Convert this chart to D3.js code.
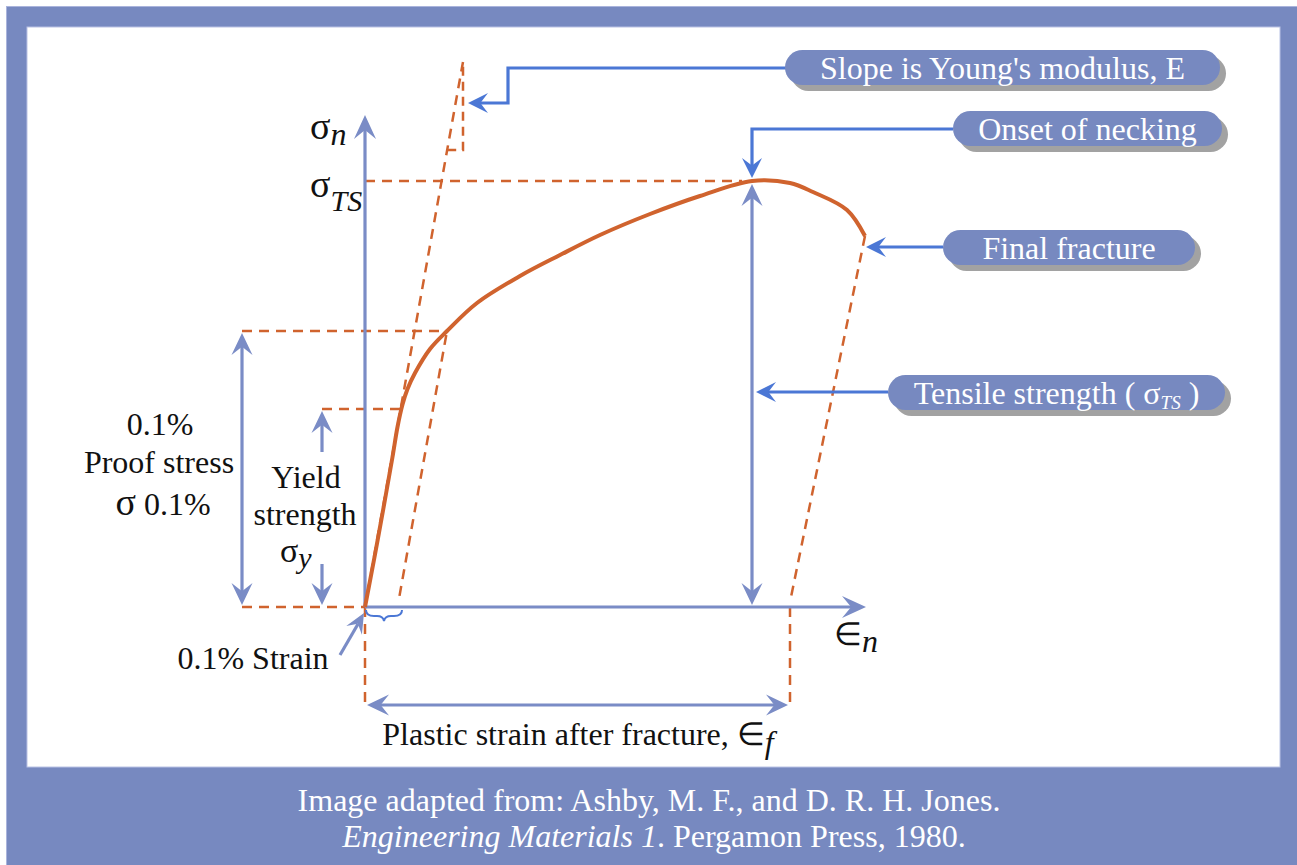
<!doctype html>
<html lang="en">
<head>
<meta charset="utf-8">
<title>Stress-strain curve</title>
<script src="https://d3js.org/d3.v7.min.js"></script>
<style>
  body { margin: 0; padding: 0; background: #fff; }
  svg text { font-family: 'Liberation Serif', 'Times New Roman', serif; }
</style>
</head>
<body>
<script>
// curve (strain, stress in arbitrary units)
const curveStrain = [0, 2, 4, 5.5, 6.5, 7.5, 8.5, 10, 13, 16.4, 22.4, 31, 39, 47, 57, 67, 77.4, 85, 89.6, 96.4, 100];
const curveStress = [0, 10.5, 21.5, 30, 36, 40.5, 43.6, 46.8, 51.6, 55.2, 60.8, 66.2, 70.4, 74.4, 78.6, 82.2, 85.2, 84.8, 83, 79.4, 74.2];

// key values
const yieldPoint = [7, 39.6];
const proofPoint = [16.4, 55.2];
const peakPoint = [77.4, 85.2];
const fracturePoint = [100, 74.2];
const plasticStrain = 85;
const offsetStrain = 6.5;
const modulus = 5.56;
const slopeTop = [19.6, 109];
const slopeCorner = [19.6, 91.4];

const frameCol = "#7789c0";
const axisCol = "#7a8cc6";
const orange = "#d0632e";
const callCol = "#4b77d5";

const W = 1297, H = 865;
const svg = d3.select("body").append("svg").attr("width", W).attr("height", H);

// frame
svg.append("rect").attr("x", 6.5).attr("y", 6.5).attr("width", W - 6).attr("height", H - 6)
  .attr("fill", frameCol).attr("stroke", "#aab4dc").attr("stroke-width", 1);
svg.append("rect").attr("x", 27).attr("y", 27).attr("width", 1253).attr("height", 740)
  .attr("fill", "#fff").attr("stroke", "#b9c2e4").attr("stroke-width", 1);

const x = d3.scaleLinear().domain([0, 100]).range([365, 865]);
const y = d3.scaleLinear().domain([0, 100]).range([607, 107]);

function head(tip, from, color, len = 22, hw = 10.5) {
  const dx = tip[0] - from[0], dy = tip[1] - from[1];
  const d = Math.hypot(dx, dy), ux = dx / d, uy = dy / d;
  const px = -uy, py = ux;
  const bx = tip[0] - ux * len, by = tip[1] - uy * len;
  const nx = tip[0] - ux * len * 0.62, ny = tip[1] - uy * len * 0.62;
  svg.append("path")
    .attr("d", `M${tip[0]},${tip[1]}L${bx + px * hw},${by + py * hw}L${nx},${ny}L${bx - px * hw},${by - py * hw}Z`)
    .attr("fill", color);
}

function line(pts, color, w, dash) {
  svg.append("path").attr("d", d3.line()(pts))
    .attr("fill", "none").attr("stroke", color).attr("stroke-width", w)
    .attr("stroke-dasharray", dash || null);
}

const dash = "10,7";

// dashed construction lines
line([[x(0), y(peakPoint[1])], [x(peakPoint[0]) - 10, y(peakPoint[1])]], orange, 2.5, dash);
line([[242, y(proofPoint[1])], [x(proofPoint[0]), y(proofPoint[1])]], orange, 2.5, dash);
line([[322, y(yieldPoint[1])], [x(yieldPoint[0]), y(yieldPoint[1])]], orange, 2.5, dash);
line([[242, y(0)], [x(0), y(0)]], orange, 2.5, dash);
line([[x(0), y(0)], [x(0), 705]], orange, 2.5, dash);
line([[x(plasticStrain), y(0)], [x(plasticStrain), 705]], orange, 2.5, dash);
line([[x(0), y(0)], [x(slopeTop[0]), y(slopeTop[1])]], orange, 2.5, dash);
line([[x(offsetStrain + 0.4), y(modulus * 0.4)], [x(proofPoint[0]), y(proofPoint[1])]], orange, 2.5, dash);
line([[x(fracturePoint[0]), y(fracturePoint[1])], [x(plasticStrain), y(1)]], orange, 2.5, dash);
line([[x(slopeCorner[1] / modulus), y(slopeCorner[1])], [x(slopeCorner[0]), y(slopeCorner[1])], [x(slopeCorner[0]), y(slopeTop[1]) + 4]], orange, 2.5, "9,6");

// axes
line([[x(0), y(0)], [x(0), 125]], axisCol, 3.2);
head([x(0), 115], [x(0), 200], axisCol, 24, 11);
line([[x(0), y(0)], [856, y(0)]], axisCol, 3.2);
head([866, y(0)], [800, y(0)], axisCol, 24, 11);

// curve
svg.append("path")
  .datum(curveStrain.map((s, i) => [s, curveStress[i]]))
  .attr("d", d3.line().x(d => x(d[0])).y(d => y(d[1])).curve(d3.curveCatmullRom.alpha(0.5)))
  .attr("fill", "none").attr("stroke", orange).attr("stroke-width", 4);

// dimension arrows
function dbl(a, b, color) {
  const ux = b[0] - a[0], uy = b[1] - a[1], d = Math.hypot(ux, uy);
  const k = 10 / d;
  line([[a[0] + ux * k, a[1] + uy * k], [b[0] - ux * k, b[1] - uy * k]], color, 3.2);
  head(a, b, color); head(b, a, color);
}
dbl([x(peakPoint[0]), y(peakPoint[1]) + 3], [x(peakPoint[0]), y(0) - 2], axisCol);
dbl([242, y(proofPoint[1]) + 2], [242, y(0) - 2], axisCol);
dbl([x(0) + 2, 705], [x(plasticStrain) - 2, 705], axisCol);
line([[322, 452], [322, y(yieldPoint[1]) + 10]], axisCol, 3.2);
head([322, y(yieldPoint[1]) + 2], [322, 460], axisCol);
line([[322, 564], [322, y(0) - 12]], axisCol, 3.2);
head([322, y(0) - 2], [322, 540], axisCol);

// 0.1% strain pointer and brace
line([[340, 655], [358, 624]], axisCol, 3.2);
head([364, 613], [340, 655], axisCol, 20, 9);
svg.append("path")
  .attr("d", `M${x(0) + 1},610 q0,6 8,6 h3 q6,0 7,5 q1,-5 7,-5 h3 q8,0 8,-6`)
  .attr("fill", "none").attr("stroke", callCol).attr("stroke-width", 2);

// callouts
line([[786, 68], [508, 68], [508, 103], [480, 103]], callCol, 3.2);
head([468, 103], [520, 103], callCol, 20, 10);
line([[953, 129], [x(peakPoint[0]), 129], [x(peakPoint[0]), 170]], callCol, 3.2);
head([x(peakPoint[0]), y(peakPoint[1]) - 3], [x(peakPoint[0]), 130], callCol, 20, 10);
line([[943, 247], [878, 247]], callCol, 3.2);
head([866, 247], [940, 247], callCol, 20, 10);
line([[888, 392], [768, 392]], callCol, 3.2);
head([756, 392], [880, 392], callCol, 20, 10);

// labelled pills
const boxes = [
  { x0: 785, x1: 1220, y0: 50, y1: 85, label: "Slope is Young's modulus, E" },
  { x0: 953, x1: 1222, y0: 111, y1: 146, label: "Onset of necking" },
  { x0: 943, x1: 1195, y0: 230, y1: 265, label: "Final fracture" },
  { x0: 888, x1: 1225, y0: 375, y1: 410, label: null }
];
boxes.forEach(b => {
  const h = b.y1 - b.y0;
  svg.append("rect").attr("x", b.x0 + 6).attr("y", b.y0 + 6).attr("width", b.x1 - b.x0).attr("height", h)
    .attr("rx", h / 2).attr("fill", "#a2a2a2");
  svg.append("rect").attr("x", b.x0).attr("y", b.y0).attr("width", b.x1 - b.x0).attr("height", h)
    .attr("rx", h / 2).attr("fill", frameCol);
  const t = svg.append("text").attr("x", (b.x0 + b.x1) / 2).attr("y", b.y0 + h / 2 + 11)
    .attr("text-anchor", "middle").attr("fill", "#fff").attr("font-size", 32);
  if (b.label) t.text(b.label);
  else {
    t.append("tspan").text("Tensile strength ( ");
    t.append("tspan").text("σ");
    t.append("tspan").attr("font-style", "italic").attr("font-size", 19).attr("dy", 5).text("TS");
    t.append("tspan").attr("dy", -5).text(" )");
  }
});

// axis labels
function sym(xp, yp, main, sub, size, subSize, dy) {
  const t = svg.append("text").attr("x", xp).attr("y", yp).attr("font-size", size).attr("fill", "#111");
  t.append("tspan").text(main);
  t.append("tspan").attr("font-style", "italic").attr("font-size", subSize).attr("dy", dy).text(sub);
  return t;
}
sym(310, 139, "σ", "n", 38, 32, 6);
sym(310, 197, "σ", "TS", 38, 30, 14);
sym(280, 562, "σ", "y", 34, 30, 6);
sym(834, 645, "∈", "n", 32, 32, 7);

function label(xp, yp, txt, size = 32) {
  return svg.append("text").attr("x", xp).attr("y", yp).attr("font-size", size)
    .attr("text-anchor", "middle").attr("fill", "#111").text(txt);
}
label(160, 435, "0.1%");
label(159, 473, "Proof stress");
const s01 = svg.append("text").attr("x", 163).attr("y", 515).attr("font-size", 32)
  .attr("text-anchor", "middle").attr("fill", "#111");
s01.append("tspan").attr("font-size", 38).text("σ");
s01.append("tspan").text(" 0.1%");
label(306, 488, "Yield");
label(305, 525, "strength");
label(253, 669, "0.1% Strain");
const ps = svg.append("text").attr("x", 578).attr("y", 745).attr("font-size", 32)
  .attr("text-anchor", "middle").attr("fill", "#111");
ps.append("tspan").text("Plastic strain after fracture, ∈");
ps.append("tspan").attr("font-style", "italic").attr("dy", 8).text("f");

// footer
svg.append("text").attr("x", 649).attr("y", 811).attr("font-size", 32).attr("text-anchor", "middle")
  .attr("fill", "#fff").text("Image adapted from: Ashby, M. F., and D. R. H. Jones.");
const f2 = svg.append("text").attr("x", 654).attr("y", 847).attr("font-size", 32).attr("text-anchor", "middle")
  .attr("fill", "#fff");
f2.append("tspan").attr("font-style", "italic").text("Engineering Materials 1");
f2.append("tspan").text(". Pergamon Press, 1980.");
</script>
</body>
</html>
